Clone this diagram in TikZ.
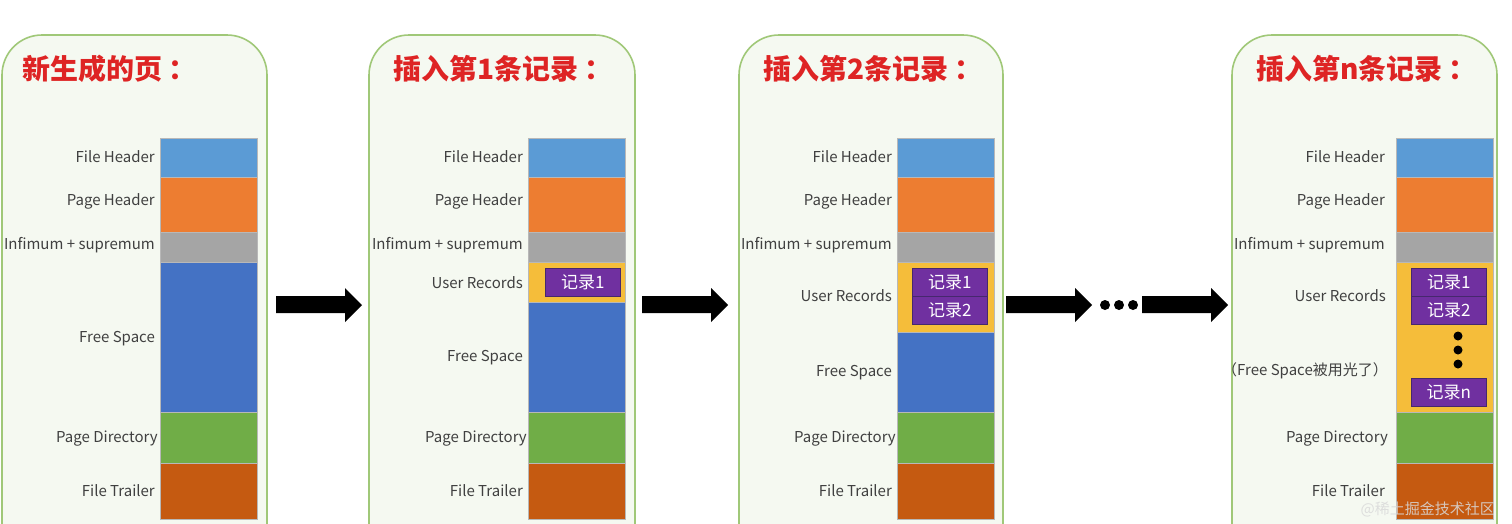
\documentclass[tikz,border=0pt]{standalone}
\usepackage{fontspec}
\setmainfont{Noto Sans CJK SC}
\definecolor{cFH}{RGB}{91,155,213}
\definecolor{cPH}{RGB}{237,125,49}
\definecolor{cIS}{RGB}{165,165,165}
\definecolor{cFS}{RGB}{68,114,196}
\definecolor{cPD}{RGB}{112,173,71}
\definecolor{cFT}{RGB}{197,90,17}
\definecolor{cUR}{RGB}{245,189,58}
\definecolor{cRec}{RGB}{112,48,160}
\definecolor{cRecB}{RGB}{70,40,110}
\definecolor{cTitle}{RGB}{222,36,36}
\definecolor{cPanel}{RGB}{160,200,120}
\definecolor{cPanelF}{RGB}{245,249,241}
\definecolor{cLbl}{RGB}{64,64,64}
\tikzset{
  panel/.style={draw=cPanel, fill=cPanelF, line width=1.6pt, rounded corners=40pt},
  seg/.style={draw=black!28, line width=0.6pt, minimum width=97pt, inner sep=0pt, outer sep=0pt},
  lbl/.style={anchor=east, text=cLbl, font=\fontsize{15}{17}\selectfont, inner sep=0pt},
  ttl/.style={anchor=west, text=cTitle, font=\fontsize{28}{32}\selectfont\bfseries, inner sep=0pt},
  rec/.style={draw=cRecB, line width=0.8pt, fill=cRec, text=white, minimum width=75pt, minimum height=28pt, inner sep=0pt, anchor=north west, font=\fontsize{17}{19}\selectfont},
  bigarrow/.style={fill=black},
  dot/.style={circle, fill=black, inner sep=0pt, minimum size=#1}
}
\newcommand\seg[5]{\node[seg, fill=#5, minimum height={(#4-#3)*1pt}, anchor=north west] (#1) at (#2,#3) {};}
\newcommand\bigarr[1]{\fill[bigarrow] (#1,296) -- (#1+69,296) -- (#1+69,288) -- (#1+86,305) -- (#1+69,322) -- (#1+69,313) -- (#1,313) -- cycle;}
\newcommand\colonsp{\hspace{6pt}：}
\begin{document}
\begin{tikzpicture}[x=1pt,y=-1pt]
\useasboundingbox (0,0) rectangle (1512,523);
\fill[white] (0,0) rectangle (1512,523);
\begin{scope}
\clip (0,0) rectangle (1512,523);
% panels
\draw[panel] (2,35) rectangle (267,600);
\draw[panel] (369,35) rectangle (635,600);
\draw[panel] (739,35) rectangle (1003,600);
\draw[panel] (1232,35) rectangle (1497,600);

% ---------- panel 1 ----------
\node[ttl] (t1) at (22,69) {新生成的页\colonsp};
\seg{a1}{160}{138}{177}{cFH}
\seg{a2}{160}{177}{232}{cPH}
\seg{a3}{160}{232}{262}{cIS}
\seg{a4}{160}{262}{412}{cFS}
\seg{a5}{160}{412}{463}{cPD}
\seg{a6}{160}{463}{519}{cFT}
\node[lbl] (la1) at (155,157) {File Header};
\node[lbl] (la2) at (155,201) {Page Header};
\node[lbl] (la3) at (155,245) {Infimum + supremum};
\node[lbl] (la4) at (155,339) {Free Space};
\node[lbl] (la5) at (158,439) {Page Directory};
\node[lbl] (la6) at (155,491) {File Trailer};

% ---------- panel 2 ----------
\node[ttl] (t2) at (393,69) {插入第1条记录\colonsp};
\seg{b1}{528}{138}{177}{cFH}
\seg{b2}{528}{177}{232}{cPH}
\seg{b3}{528}{232}{262}{cIS}
\seg{b4}{528}{262}{302}{cUR}
\seg{b5}{528}{302}{412}{cFS}
\seg{b6}{528}{412}{463}{cPD}
\seg{b7}{528}{463}{519}{cFT}
\node[rec] (br1) at (545,268) {记录1};
\node[lbl] (lb1) at (523,157) {File Header};
\node[lbl] (lb2) at (523,201) {Page Header};
\node[lbl] (lb3) at (523,245) {Infimum + supremum};
\node[lbl] (lb4) at (523,283) {User Records};
\node[lbl] (lb5) at (523,358) {Free Space};
\node[lbl] (lb6) at (527,439) {Page Directory};
\node[lbl] (lb7) at (523,491) {File Trailer};

% ---------- panel 3 ----------
\node[ttl] (t3) at (763,69) {插入第2条记录\colonsp};
\seg{c1}{897}{138}{177}{cFH}
\seg{c2}{897}{177}{232}{cPH}
\seg{c3}{897}{232}{262}{cIS}
\seg{c4}{897}{262}{332}{cUR}
\seg{c5}{897}{332}{412}{cFS}
\seg{c6}{897}{412}{463}{cPD}
\seg{c7}{897}{463}{519}{cFT}
\node[rec] (cr1) at (912,268) {记录1};
\node[rec] (cr2) at (912,296) {记录2};
\node[lbl] (lc1) at (892,157) {File Header};
\node[lbl] (lc2) at (892,201) {Page Header};
\node[lbl] (lc3) at (892,245) {Infimum + supremum};
\node[lbl] (lc4) at (892,296) {User Records};
\node[lbl] (lc5) at (892,373) {Free Space};
\node[lbl] (lc6) at (896,439) {Page Directory};
\node[lbl] (lc7) at (892,491) {File Trailer};

% ---------- panel 4 ----------
\node[ttl] (t4) at (1256,69) {插入第n条记录\colonsp};
\seg{d1}{1396}{138}{177}{cFH}
\seg{d2}{1396}{177}{232}{cPH}
\seg{d3}{1396}{232}{262}{cIS}
\seg{d4}{1396}{262}{412}{cUR}
\seg{d6}{1396}{412}{463}{cPD}
\seg{d7}{1396}{463}{519}{cFT}
\node[rec] (dr1) at (1411,268) {记录1};
\node[rec] (dr2) at (1411,296) {记录2};
\node[dot=9pt] (dd1) at (1458,336) {};
\node[dot=9pt] (dd2) at (1458,350) {};
\node[dot=9pt] (dd3) at (1458,364) {};
\node[rec] (drn) at (1411,378) {记录n};
\node[lbl] (ld1) at (1385,157) {File Header};
\node[lbl] (ld2) at (1385,201) {Page Header};
\node[lbl] (ld3) at (1385,245) {Infimum + supremum};
\node[lbl] (ld4) at (1386,296) {User Records};
\node[lbl] (ld5) at (1388,371) {（Free Space被用光了）};
\node[lbl] (ld6) at (1388,439) {Page Directory};
\node[lbl] (ld7) at (1385,491) {File Trailer};

% ---------- arrows ----------
\bigarr{276}
\bigarr{642}
\bigarr{1006}
\bigarr{1142}
\node[dot=10pt] (e1) at (1105,305) {};
\node[dot=10pt] (e2) at (1119,305) {};
\node[dot=10pt] (e3) at (1133,305) {};

% watermark
\node[anchor=east, text=white!70!gray, opacity=0.85, font=\fontsize{15}{17}\selectfont, inner sep=0pt] (wm) at (1495,509) {@稀土掘金技术社区};
\end{scope}
\end{tikzpicture}
\end{document}
